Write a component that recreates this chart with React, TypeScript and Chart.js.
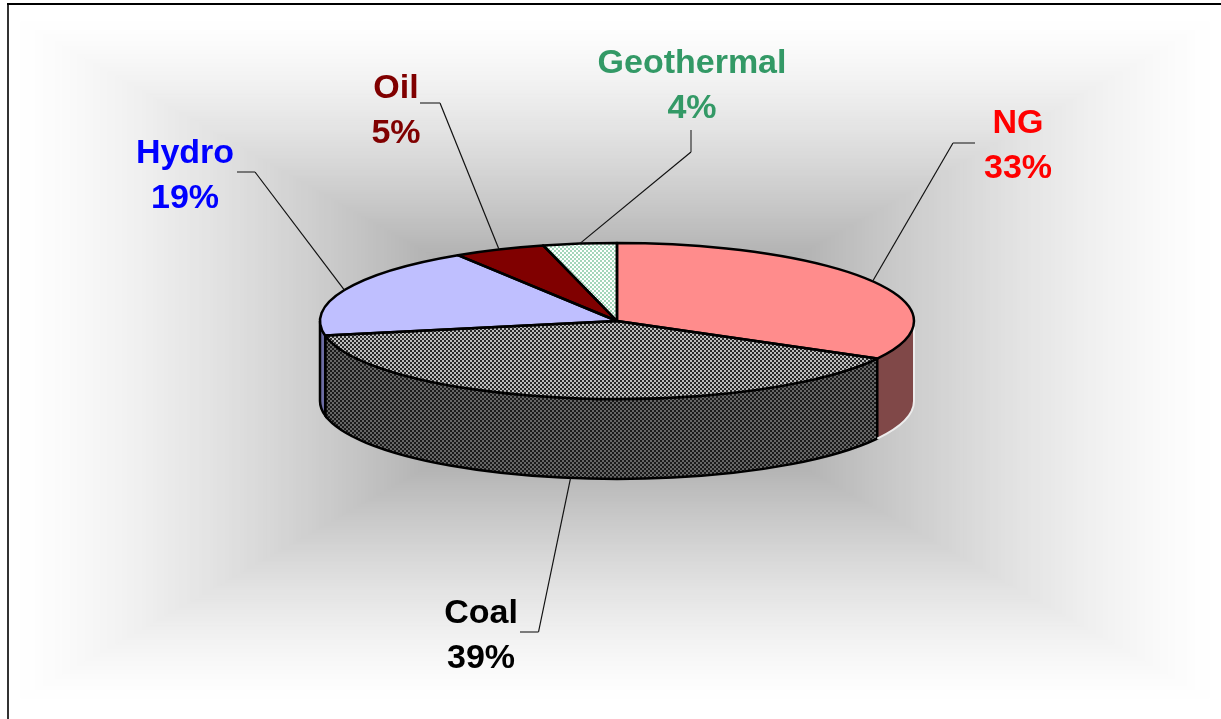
import { useEffect, useRef } from "react";
import { Chart, registerables } from "chart.js";

Chart.register(...registerables);

// Electricity generation mix, clockwise from twelve o'clock.
const categories = ["NG", "Coal", "Hydro", "Oil", "Geothermal"];
const shares = [33, 39, 19, 5, 4];
const labelColors = ["#ff0000", "#000000", "#0000ff", "#800000", "#339966"];

// Callout placement: text centre, then the elbow and the end of each leader.
const labelCentres = [[1018, 146], [481, 636], [185, 176], [396, 111], [692, 86]];
const leaderElbows = [[953, 143], [538.5, 632], [255, 172], [440, 103], [691, 152]];
const leaderEnds = [[975, 143], [520, 632], [237, 172], [420, 103], [691, 130]];

const WIDTH = 1221;
const HEIGHT = 719;
const SQUASH = 78 / 297; // ellipse height over width for the tilted disc
const DEPTH = 80; // height of the cylinder wall

function checker(a: string, b: string, cell = 2) {
  const c = document.createElement("canvas");
  c.width = c.height = cell * 2;
  const g = c.getContext("2d")!;
  g.fillStyle = a;
  g.fillRect(0, 0, cell * 2, cell * 2);
  g.fillStyle = b;
  g.fillRect(0, 0, cell, cell);
  g.fillRect(cell, cell, cell, cell);
  return g.createPattern(c, "repeat")!;
}

// Square-path gradient behind the pie: grey in the middle, fading to white.
function paintBackdrop(ctx: CanvasRenderingContext2D) {
  const cx = 615;
  const cy = 360;
  const halfW = 606;
  const halfH = 345;
  ctx.fillStyle = "#ffffff";
  ctx.fillRect(0, 0, WIDTH, HEIGHT);
  const steps = 160;
  for (let i = steps; i >= 0; i--) {
    const t = i / steps;
    const v = Math.round(255 - 125 * Math.pow(1 - t, 1.35));
    ctx.fillStyle = `rgb(${v},${v},${v})`;
    ctx.fillRect(cx - halfW * t, cy - halfH * t, 2 * halfW * t, 2 * halfH * t);
  }
  ctx.fillStyle = "#333333";
  ctx.fillRect(7, 3, 2, HEIGHT - 3);
  ctx.fillStyle = "#000000";
  ctx.fillRect(7, 3, WIDTH - 7, 2);
}

export default function App() {
  const ref = useRef<HTMLCanvasElement>(null);

  useEffect(() => {
    const patterns = {
      coalTop: checker("#bebebe", "#2a2a2a"),
      coalWall: checker("#666666", "#1a1a1a"),
      geoTop: checker("#ffffff", "#a4d6ba"),
    };
    const topFills = ["#ff8c8c", patterns.coalTop, "#bfbfff", "#800000", patterns.geoTop];
    const wallFills = ["#804848", patterns.coalWall, "#6c6ca4", "#400000", "#669980"];

    const pie3d = {
      id: "pie3d",
      beforeDraw(chart: Chart) {
        paintBackdrop(chart.ctx);
      },
      beforeDatasetsDraw(chart: Chart) {
        const ctx = chart.ctx;
        const arcs = chart.getDatasetMeta(0).data as any[];
        arcs.forEach((arc, i) => {
          const rx = arc.outerRadius;
          const ry = rx * SQUASH;
          const a = Math.max(arc.startAngle, 0);
          const b = Math.min(arc.endAngle, Math.PI);
          if (b <= a) return;
          ctx.beginPath();
          ctx.ellipse(arc.x, arc.y, rx, ry, 0, a, b);
          ctx.ellipse(arc.x, arc.y + DEPTH, rx, ry, 0, b, a, true);
          ctx.closePath();
          ctx.fillStyle = wallFills[i];
          ctx.fill();
          if (i > 0) {
            ctx.lineWidth = 2.5;
            ctx.strokeStyle = "#000000";
            ctx.stroke();
          }
        });
        // The lit right-hand slice of the wall has a pale rim, not a dark one.
        const first = arcs[0];
        const rx = first.outerRadius;
        const ry = rx * SQUASH;
        ctx.beginPath();
        ctx.moveTo(first.x + rx, first.y);
        ctx.ellipse(first.x, first.y + DEPTH, rx, ry, 0, 0, first.endAngle);
        ctx.lineWidth = 2;
        ctx.strokeStyle = "#ececec";
        ctx.stroke();
      },
      beforeDatasetDraw(chart: Chart) {
        const ctx = chart.ctx;
        const arc = chart.getDatasetMeta(0).data[0] as any;
        ctx.save();
        ctx.translate(arc.x, arc.y);
        ctx.scale(1, SQUASH);
        ctx.translate(-arc.x, -arc.y);
        // Keep the dither aligned to device pixels inside the flattened space.
        const inverse = ctx.getTransform().inverse();
        patterns.coalTop.setTransform(inverse);
        patterns.geoTop.setTransform(inverse);
      },
      afterDatasetDraw(chart: Chart) {
        chart.ctx.restore();
        patterns.coalTop.setTransform(new DOMMatrix());
        patterns.geoTop.setTransform(new DOMMatrix());
      },
      afterDatasetsDraw(chart: Chart) {
        const ctx = chart.ctx;
        const arcs = chart.getDatasetMeta(0).data as any[];
        ctx.lineWidth = 2.5;
        ctx.strokeStyle = "#000000";
        ctx.lineJoin = "round";
        arcs.forEach((arc) => {
          ctx.beginPath();
          ctx.moveTo(arc.x, arc.y);
          ctx.ellipse(arc.x, arc.y, arc.outerRadius, arc.outerRadius * SQUASH, 0, arc.startAngle, arc.endAngle);
          ctx.closePath();
          ctx.stroke();
        });

        arcs.forEach((arc, i) => {
          // Leaders start on the rim at the middle of each slice.
          const mid = (arc.startAngle + arc.endAngle) / 2;
          const rx = arc.outerRadius;
          const sx = arc.x + Math.cos(mid) * rx;
          const onFront = Math.sin(mid) > 0 && i === 1;
          const sy = arc.y + Math.sin(mid) * rx * SQUASH + (onFront ? DEPTH : 0);
          ctx.beginPath();
          ctx.moveTo(sx, sy);
          ctx.lineTo(leaderElbows[i][0], leaderElbows[i][1]);
          ctx.lineWidth = 1.2;
          ctx.strokeStyle = "#111111";
          ctx.stroke();
          ctx.beginPath();
          ctx.moveTo(leaderElbows[i][0], leaderElbows[i][1]);
          ctx.lineTo(leaderEnds[i][0], leaderEnds[i][1]);
          ctx.lineWidth = 1.5;
          ctx.strokeStyle = "#555555";
          ctx.stroke();

          ctx.fillStyle = labelColors[i];
          ctx.font = 'bold 34px "Liberation Sans", Arial, sans-serif';
          ctx.textAlign = "center";
          ctx.textBaseline = "middle";
          ctx.fillText(categories[i], labelCentres[i][0], labelCentres[i][1] - 22.5);
          ctx.fillText(`${shares[i]}%`, labelCentres[i][0], labelCentres[i][1] + 22.5);
        });
      },
    };

    const chart = new Chart(ref.current!, {
      type: "pie",
      data: {
        labels: categories,
        datasets: [{ data: shares, backgroundColor: topFills, borderWidth: 0 }],
      },
      options: {
        responsive: false,
        animation: false,
        rotation: 0,
        layout: { padding: { left: 13, right: 0, top: 24, bottom: 101 } },
        plugins: { legend: { display: false }, tooltip: { enabled: false } },
      },
      plugins: [pie3d],
    } as any);
    return () => chart.destroy();
  }, []);

  return (
    <div style={{ position: "absolute", left: 0, top: 0, width: WIDTH, height: HEIGHT }}>
      <canvas ref={ref} width={WIDTH} height={HEIGHT} style={{ display: "block" }} />
    </div>
  );
}
